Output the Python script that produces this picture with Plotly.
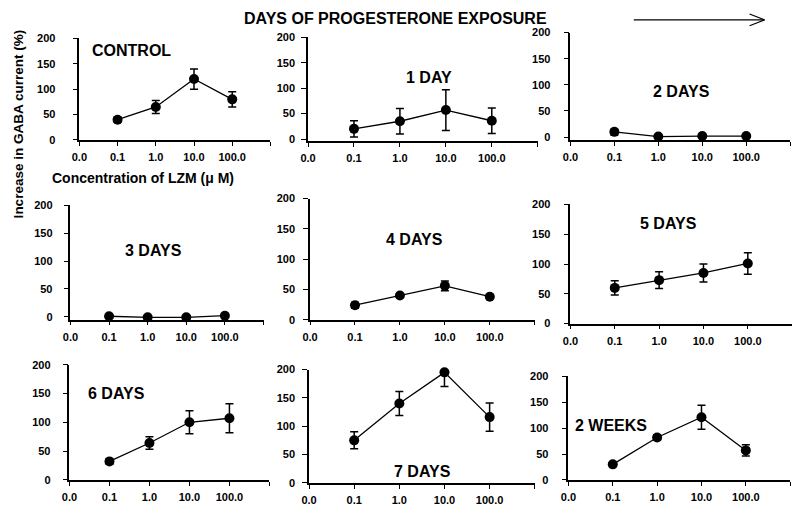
import plotly.graph_objects as go

# ---------------- data ----------------
TICK_LABELS = ["0.0", "0.1", "1.0", "10.0", "100.0", ""]
CONC = ["0.1", "1.0", "10.0", "100.0"]
Y_TICKS = [0, 50, 100, 150, 200]

PANEL_NAMES = ["CONTROL", "1 DAY", "2 DAYS", "3 DAYS", "4 DAYS", "5 DAYS",
               "6 DAYS", "7 DAYS", "2 WEEKS"]

CONTROL_MEAN = [40, 65, 120, 80]
CONTROL_ERR_UP = [5, 13, 20, 15]
CONTROL_ERR_DN = [5, 13, 20, 15]

DAY1_MEAN = [20, 35, 57, 36]
DAY1_ERR_UP = [16, 25, 40, 25]
DAY1_ERR_DN = [16, 25, 40, 25]

DAY2_MEAN = [10, 1, 2, 2]
DAY2_ERR_UP = [4, 1, 2, 2]
DAY2_ERR_DN = [6, 1, 2, 2]

DAY3_MEAN = [1, -1, -1, 2]
DAY3_ERR_UP = [1, 1, 1, 1]
DAY3_ERR_DN = [1, 1, 1, 1]

DAY4_MEAN = [24, 40, 56, 38]
DAY4_ERR_UP = [5, 2, 8, 3]
DAY4_ERR_DN = [5, 2, 8, 3]

DAY5_MEAN = [60, 73, 85, 101]
DAY5_ERR_UP = [12, 14, 15, 18]
DAY5_ERR_DN = [12, 14, 15, 18]

DAY6_MEAN = [32, 64, 100, 107]
DAY6_ERR_UP = [5, 11, 20, 25]
DAY6_ERR_DN = [5, 11, 20, 25]

DAY7_MEAN = [75, 140, 195, 116]
DAY7_ERR_UP = [15, 21, 0, 25]
DAY7_ERR_DN = [15, 21, 25, 25]

WEEK2_MEAN = [30, 82, 121, 57]
WEEK2_ERR_UP = [3, 5, 23, 11]
WEEK2_ERR_DN = [3, 5, 23, 11]

MEANS = [CONTROL_MEAN, DAY1_MEAN, DAY2_MEAN, DAY3_MEAN, DAY4_MEAN,
         DAY5_MEAN, DAY6_MEAN, DAY7_MEAN, WEEK2_MEAN]
ERR_UP = [CONTROL_ERR_UP, DAY1_ERR_UP, DAY2_ERR_UP, DAY3_ERR_UP, DAY4_ERR_UP,
          DAY5_ERR_UP, DAY6_ERR_UP, DAY7_ERR_UP, WEEK2_ERR_UP]
ERR_DN = [CONTROL_ERR_DN, DAY1_ERR_DN, DAY2_ERR_DN, DAY3_ERR_DN, DAY4_ERR_DN,
          DAY5_ERR_DN, DAY6_ERR_DN, DAY7_ERR_DN, WEEK2_ERR_DN]

# ---------------- layout geometry (screen pixels) ----------------
W, H = 800, 516
OFF = 8  # page body margin: the figure is drawn 8 px right/down
# (y-axis x px, x-axis end px, px of y=200, px of y=0, px of x-axis line,
#  gap between y tick labels and y-axis)
GEOM = [
    (72, 265, 33, 137, 137, 22),
    (303, 535, 32, 136, 138, 11),
    (568, 790, 27, 134, 137, 18),
    (63, 258, 204, 318, 321, 16),
    (305, 532, 197, 321, 321, 13),
    (568, 792, 203, 325, 325, 18),
    (62, 264, 367, 485, 485, 17),
    (304, 532, 372, 488, 488, 12),
    (566, 790, 379, 485, 485, 18),
]
# panel label centres (px)
LABEL_POS = [(125, 45), (425, 73), (680, 87), (147, 250), (411, 239),
             (667, 222), (110, 397), (419, 476), (609, 429)]

FONT = "Liberation Sans, Arial, sans-serif"
TICKLEN = 5


def px(x):
    return (x - OFF) / W


def py(y):
    return 1 - (y - OFF) / H


x_pos = [TICK_LABELS.index(c) for c in CONC]

fig = go.Figure()
layout_axes = {}
annotations = []

for i, (name, mean, eu, ed, g, lp) in enumerate(
        zip(PANEL_NAMES, MEANS, ERR_UP, ERR_DN, GEOM, LABEL_POS)):
    n = i + 1
    xa = "x" if n == 1 else f"x{n}"
    ya = "y" if n == 1 else f"y{n}"
    xl, xr, y200, y0, yline, gap = g
    ybottom = -(yline - y0) / (y0 - y200) * 200

    fig.add_trace(go.Scatter(
        x=x_pos, y=mean, mode="lines+markers",
        xaxis=xa, yaxis=ya, cliponaxis=False,
        line=dict(color="black", width=1.3),
        marker=dict(color="black", size=10),
        error_y=dict(type="data", symmetric=False, array=eu, arrayminus=ed,
                     color="black", thickness=1.5, width=4),
        showlegend=False,
    ))

    xkey = "xaxis" if n == 1 else f"xaxis{n}"
    ykey = "yaxis" if n == 1 else f"yaxis{n}"
    layout_axes[xkey] = dict(
        domain=[px(xl), min(px(xr), 1.0)], anchor=ya, range=[0, 5],
        tickmode="array", tickvals=list(range(len(TICK_LABELS))),
        ticktext=TICK_LABELS, ticks="outside", ticklen=4, tickwidth=1.3,
        tickcolor="black", showline=True, linecolor="black", linewidth=1.5,
        showgrid=False, zeroline=False, fixedrange=True,
        ticklabelstandoff=2,
        tickfont=dict(family=FONT, size=11, color="black", weight="bold"),
    )
    layout_axes[ykey] = dict(
        domain=[py(yline), py(y200)], anchor=xa, range=[ybottom, 200],
        tickmode="array", tickvals=Y_TICKS, ticks="outside", ticklen=TICKLEN,
        tickwidth=1.3, tickcolor="black", showline=True, linecolor="black",
        linewidth=1.5, showgrid=False, zeroline=False, fixedrange=True,
        ticklabelstandoff=max(gap - TICKLEN - 2, 0),
        tickfont=dict(family=FONT, size=11, color="black", weight="bold"),
    )
    annotations.append(dict(
        text=name, x=px(lp[0]), y=py(lp[1]), xref="paper", yref="paper",
        showarrow=False, xanchor="center", yanchor="middle",
        font=dict(family=FONT, size=16, color="black", weight="bold"),
    ))

annotations += [
    dict(text="DAYS OF PROGESTERONE EXPOSURE", x=px(391), y=py(13),
         xref="paper", yref="paper", showarrow=False, xanchor="center",
         yanchor="middle",
         font=dict(family=FONT, size=16, color="black", weight="bold")),
    dict(text="Increase in GABA current (%)", x=px(10), y=py(120),
         xref="paper", yref="paper", showarrow=False, textangle=-90,
         xanchor="center", yanchor="middle",
         font=dict(family=FONT, size=13.5, color="black", weight="bold")),
    dict(text="Concentration of LZM (μ M)", x=px(136), y=py(176),
         xref="paper", yref="paper", showarrow=False, xanchor="center",
         yanchor="middle",
         font=dict(family=FONT, size=14, color="black", weight="bold")),
]

shapes = [
    dict(type="line", xref="paper", yref="paper", x0=px(632), x1=px(764),
         y0=py(14), y1=py(14), line=dict(color="black", width=1.2)),
    dict(type="line", xref="paper", yref="paper", x0=px(749), x1=px(764),
         y0=py(8), y1=py(14), line=dict(color="black", width=1.2)),
    dict(type="line", xref="paper", yref="paper", x0=px(749), x1=px(764),
         y0=py(20), y1=py(14), line=dict(color="black", width=1.2)),
]

fig.update_layout(
    width=W, height=H, margin=dict(l=0, r=0, t=0, b=0),
    paper_bgcolor="white", plot_bgcolor="white",
    annotations=annotations, shapes=shapes, **layout_axes,
)

fig.write_html("out.html")
